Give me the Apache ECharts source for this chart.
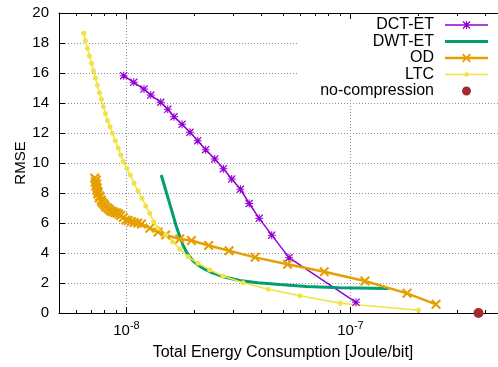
<!DOCTYPE html>
<html><head><meta charset="utf-8">
<script src="https://cdn.jsdelivr.net/npm/echarts@6/dist/echarts.min.js"></script>
<style>html,body{margin:0;padding:0;background:#fff}#c{width:498px;height:367px}</style>
</head><body><div id="c"></div>
<script>
// ---- data ----
const seriesNames = ['DCT-ET', 'DWT-ET', 'OD', 'LTC', 'no-compression'];

const dctX = [9.72e-9, 1.078e-8, 1.198e-8, 1.284e-8, 1.423e-8, 1.529e-8, 1.631e-8, 1.771e-8, 1.922e-8, 2.082e-8,
              2.259e-8, 2.479e-8, 2.710e-8, 2.952e-8, 3.228e-8, 3.532e-8, 3.916e-8, 4.454e-8, 5.319e-8, 1.059e-7];
const dctY = [15.82, 15.38, 14.93, 14.53, 14.05, 13.58, 13.09, 12.58, 12.05, 11.49,
              10.89, 10.27, 9.62, 8.93, 8.25, 7.30, 6.31, 5.19, 3.69, 0.71];

const dwtX = [1.430e-8, 1.497e-8, 1.561e-8, 1.672e-8, 1.730e-8, 1.789e-8, 1.849e-8, 1.917e-8, 1.997e-8, 2.088e-8,
              2.214e-8, 2.354e-8, 2.700e-8, 3.205e-8, 3.857e-8, 4.835e-8, 6.364e-8, 8.958e-8, 1.483e-7];
const dwtY = [9.2, 8.2, 7.27, 5.75, 5.10, 4.53, 4.10, 3.75, 3.44, 3.2,
              2.95, 2.75, 2.42, 2.17, 2.02, 1.90, 1.77, 1.69, 1.63];

const odX = [7.22e-9, 7.33e-9, 7.26e-9, 7.37e-9, 7.29e-9, 7.41e-9, 7.37e-9, 7.48e-9, 7.45e-9, 7.60e-9,
             7.56e-9, 7.72e-9, 7.76e-9, 7.88e-9, 8.00e-9, 8.08e-9, 8.25e-9, 8.38e-9, 8.51e-9, 8.69e-9,
             8.87e-9, 9.05e-9, 9.24e-9, 9.43e-9, 9.68e-9, 9.93e-9, 1.019e-8, 1.051e-8, 1.083e-8, 1.123e-8,
             1.167e-8, 1.271e-8, 1.384e-8, 1.497e-8, 1.730e-8, 1.951e-8, 2.330e-8, 2.871e-8, 3.751e-8, 5.238e-8,
             7.638e-8, 1.161e-7, 1.789e-7, 2.411e-7];
const odY = [9.0, 8.87, 8.73, 8.6, 8.47, 8.33, 8.2, 8.07, 7.93, 7.8,
             7.67, 7.53, 7.4, 7.3, 7.2, 7.07, 7.0, 6.9, 6.8, 6.77,
             6.7, 6.67, 6.6, 6.5, 6.37, 6.2, 6.17, 6.1, 6.03, 6.0,
             5.93, 5.65, 5.4, 5.2, 4.93, 4.83, 4.5, 4.15, 3.71, 3.25,
             2.75, 2.13, 1.31, 0.58];

const ltcX = [6.45e-9, 6.56e-9, 6.70e-9, 6.84e-9, 6.98e-9, 7.12e-9, 7.27e-9, 7.42e-9, 7.58e-9, 7.73e-9,
              7.90e-9, 8.06e-9, 8.23e-9, 8.45e-9, 8.66e-9, 8.91e-9, 9.19e-9, 9.43e-9, 9.68e-9, 1.003e-8,
              1.042e-8, 1.081e-8, 1.126e-8, 1.174e-8, 1.219e-8, 1.271e-8, 1.324e-8, 1.384e-8, 1.497e-8, 1.609e-8,
              1.730e-8, 1.884e-8, 2.088e-8, 2.354e-8, 2.700e-8, 3.316e-8, 4.296e-8, 5.952e-8, 9.024e-8, 2.012e-7];
const ltcY = [18.65, 18.15, 17.65, 17.13, 16.65, 16.15, 15.67, 15.18, 14.69, 14.25,
              13.75, 13.29, 12.82, 12.42, 11.98, 11.49, 11.0, 10.53, 10.09, 9.65,
              9.2, 8.65, 8.15, 7.65, 7.13, 6.65, 6.09, 5.65, 5.2, 4.75,
              4.27, 3.75, 3.31, 2.87, 2.47, 2.02, 1.59, 1.15, 0.65, 0.18];

const noCompX = [3.73e-7];
const noCompY = [0];

const xMin = 5e-9, xMax = 5e-7;
const yMin = 0, yMax = 20, yStep = 2;
const majorXTicks = [1e-8, 1e-7];
const minorXTicks = [6e-9, 7e-9, 8e-9, 9e-9, 2e-8, 3e-8, 4e-8, 5e-8, 6e-8, 7e-8, 8e-8, 9e-8, 2e-7, 3e-7, 4e-7];

const xTitle = 'Total Energy Consumption [Joule/bit]';
const yTitle = 'RMSE';

// ---- styles ----
const FONT = '"Liberation Sans", Arial, sans-serif';
const colors = ['#9400d3', '#009e73', '#e69f00', '#f0e442', '#a52a2a'];
const GRID_COLOR = '#909090';

const ASTERISK = 'path://M0,1.1 L1.1,0 L5,3.9 L8.9,0 L10,1.1 L6.1,5 L10,8.9 L8.9,10 L5,6.1 L1.1,10 L0,8.9 L3.9,5 Z ' +
  'M4.35,0 L5.65,0 L5.65,10 L4.35,10 Z M0,4.35 L10,4.35 L10,5.65 L0,5.65 Z';
const CROSS = 'path://M0,1.5 L1.5,0 L5,3.5 L8.5,0 L10,1.5 L6.5,5 L10,8.5 L8.5,10 L5,6.5 L1.5,10 L0,8.5 L3.5,5 Z';

const BOX = 'M0,0 L0,0 Z M43,12 L43,12 Z ';
const iconDCT = 'path://' + BOX + 'M0,5.25 L43,5.25 L43,6.75 L0,6.75 Z ' +
  'M17.5,2.9 L18.4,2 L21.5,5.1 L24.6,2 L25.5,2.9 L22.4,6 L25.5,9.1 L24.6,10 L21.5,6.9 L18.4,10 L17.5,9.1 L20.6,6 Z ' +
  'M20.9,2 L22.1,2 L22.1,10 L20.9,10 Z M17.5,5.4 L25.5,5.4 L25.5,6.6 L17.5,6.6 Z';
const iconDWT = 'path://' + BOX + 'M0,4.5 L43,4.5 L43,7.5 L0,7.5 Z';
const iconOD = 'path://' + BOX + 'M0,4.75 L43,4.75 L43,7.25 L0,7.25 Z ' +
  'M17,2.8 L18.3,1.5 L21.5,4.7 L24.7,1.5 L26,2.8 L22.8,6 L26,9.2 L24.7,10.5 L21.5,7.3 L18.3,10.5 L17,9.2 L20.2,6 Z';
const iconLTC = 'path://' + BOX + 'M0,5.25 L43,5.25 L43,6.75 L0,6.75 Z M19.3,6 A2.2,2.2 0 1 1 23.7,6 A2.2,2.2 0 1 1 19.3,6 Z';
const iconNC = 'path://' + BOX + 'M17,6 A4.5,4.5 0 1 1 26,6 A4.5,4.5 0 1 1 17,6 Z';

const pairs = (xs, ys) => xs.map((x, i) => [x, ys[i]]);
const lg = Math.log10;

const tickAxis = (pos, vals, len, z) => ({
  type: 'value', position: pos, gridIndex: 0, min: lg(xMin), max: lg(xMax), z: z,
  axisLine: { show: false }, axisLabel: { show: false }, splitLine: { show: false },
  axisTick: { show: true, inside: true, length: len, customValues: vals.map(lg),
              lineStyle: { color: '#000', width: 1 } }
});

const chart = echarts.init(document.getElementById('c'), null, { renderer: 'canvas' });
chart.setOption({
  animation: false,
  backgroundColor: '#fff',
  grid: { left: 59, right: -9, top: 13, bottom: 54, outerBoundsMode: 'none', containLabel: false },
  legend: {
    orient: 'vertical', align: 'right', right: 0, top: 13, padding: [4, 10, 1, 22],
    backgroundColor: '#fff', z: 1, itemWidth: 43, itemHeight: 12, itemGap: 0.5,
    selectedMode: false,
    itemStyle: { borderWidth: 0, opacity: 1 },
    textStyle: { fontFamily: FONT, fontSize: 16, color: '#000', lineHeight: 16, padding: [0, 6, 0, 0] },
    data: [
      { name: seriesNames[0], icon: iconDCT },
      { name: seriesNames[1], icon: iconDWT },
      { name: seriesNames[2], icon: iconOD },
      { name: seriesNames[3], icon: iconLTC },
      { name: seriesNames[4], icon: iconNC }
    ]
  },
  xAxis: [
    {
      type: 'log', logBase: 10, min: xMin, max: xMax, position: 'bottom', z: 0,
      name: xTitle, nameLocation: 'middle', nameGap: 32, nameMoveOverlap: false,
      nameTextStyle: { fontFamily: FONT, fontSize: 16, color: '#000' },
      axisLine: { show: true, lineStyle: { color: '#000', width: 1 } },
      axisTick: { show: true, inside: true, length: 6, lineStyle: { color: '#000' } },
      axisLabel: {
        interval: 0, margin: 7, hideOverlap: false,
        formatter: function (v) {
          const e = Math.log10(v), r = Math.round(e);
          return Math.abs(e - r) < 1e-6 ? '{b|10}{s|' + r + '}' : '';
        },
        rich: {
          b: { fontFamily: FONT, fontSize: 15, color: '#000', lineHeight: 22 },
          s: { fontFamily: FONT, fontSize: 11, color: '#000', lineHeight: 12, verticalAlign: 'top' }
        }
      },
      splitLine: { show: true, showMinLine: false, showMaxLine: false,
                   lineStyle: { color: GRID_COLOR, width: 1, type: [1, 2] } }
    },
    tickAxis('bottom', minorXTicks, 3, 0),
    Object.assign(tickAxis('top', majorXTicks, 6, 5), { axisLine: { show: true, lineStyle: { color: '#000', width: 1 } } }),
    tickAxis('top', minorXTicks, 3, 5)
  ],
  yAxis: [{
    type: 'value', min: yMin, max: yMax, interval: yStep, position: 'left',
    name: yTitle, nameLocation: 'middle', nameGap: 31, nameMoveOverlap: false,
    nameTextStyle: { fontFamily: FONT, fontSize: 15, color: '#000' },
    axisLine: { show: true, lineStyle: { color: '#000', width: 1 } },
    axisTick: { show: true, inside: true, length: 6, lineStyle: { color: '#000' } },
    axisLabel: { fontFamily: FONT, fontSize: 15, color: '#000', margin: 10 },
    splitLine: { show: true, showMinLine: false, showMaxLine: false,
                 lineStyle: { color: GRID_COLOR, width: 1, type: [1, 2] } }
  }],
  series: [
    { name: seriesNames[0], type: 'line', xAxisIndex: 0, data: pairs(dctX, dctY),
      color: colors[0], lineStyle: { width: 1.5, color: colors[0] },
      symbol: ASTERISK, symbolSize: 8, itemStyle: { color: colors[0], borderWidth: 0 } },
    { name: seriesNames[1], type: 'line', xAxisIndex: 0, data: pairs(dwtX, dwtY),
      color: colors[1], lineStyle: { width: 3, color: colors[1] },
      symbol: 'none', itemStyle: { color: colors[1], borderWidth: 0 } },
    { name: seriesNames[2], type: 'line', xAxisIndex: 0, data: pairs(odX, odY),
      color: colors[2], lineStyle: { width: 2.5, color: colors[2] },
      symbol: CROSS, symbolSize: 10, itemStyle: { color: colors[2], borderWidth: 0 } },
    { name: seriesNames[3], type: 'line', xAxisIndex: 0, data: pairs(ltcX, ltcY),
      color: colors[3], lineStyle: { width: 1.5, color: colors[3] },
      symbol: 'circle', symbolSize: 5, itemStyle: { color: colors[3], borderWidth: 0 } },
    { name: seriesNames[4], type: 'scatter', xAxisIndex: 0, data: pairs(noCompX, noCompY),
      color: colors[4], symbol: 'circle', symbolSize: 10, clip: false,
      itemStyle: { color: colors[4], borderWidth: 0, opacity: 1 } }
  ]
});
</script></body></html>
